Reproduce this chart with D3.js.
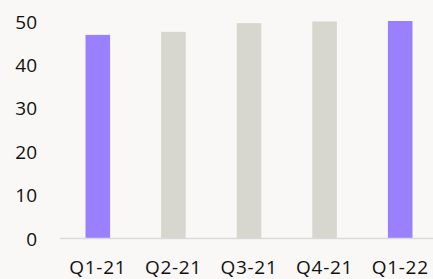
<!DOCTYPE html>
<html>
<head>
<meta charset="utf-8">
<script src="https://cdn.jsdelivr.net/npm/d3@7"></script>
<style>
  html, body { margin: 0; padding: 0; background: #f9f8f6; }
  svg { display: block; }
  .tick text { font-family: "Open Sans", sans-serif; font-size: 19px; fill: #111; }
  .xaxis .tick text { letter-spacing: 0.7px; }
</style>
</head>
<body>
<svg id="chart"></svg>
<script>
const quarters = ["Q1-21", "Q2-21", "Q3-21", "Q4-21", "Q1-22"];
const values = [46.8, 47.5, 49.5, 49.9, 50];
const highlighted = [true, false, false, false, true];
const yTicks = [0, 10, 20, 30, 40, 50];

const width = 433, height = 279;
const margin = {top: 21, right: -5, bottom: 41, left: 60};

const svg = d3.select("#chart")
  .attr("width", width)
  .attr("height", height);

const x = d3.scaleBand()
  .domain(quarters)
  .range([margin.left, width - margin.right])
  .paddingInner(0.675)
  .paddingOuter(0.3375);

const y = d3.scaleLinear()
  .domain([0, 50])
  .range([height - margin.bottom, margin.top]);

// bars
svg.append("g")
  .selectAll("rect")
  .data(quarters)
  .join("rect")
    .attr("x", d => x(d))
    .attr("width", x.bandwidth())
    .attr("y", (d, i) => y(values[i]))
    .attr("height", (d, i) => y(0) - y(values[i]))
    .attr("fill", (d, i) => highlighted[i] ? "#9a80ff" : "#d7d7cf");

// baseline
svg.append("line")
  .attr("x1", margin.left)
  .attr("x2", width)
  .attr("y1", y(0) + 0.5)
  .attr("y2", y(0) + 0.5)
  .attr("stroke", "#d9d9d9")
  .attr("stroke-width", 1.5);

// y axis labels
const yaxis = svg.append("g")
  .attr("transform", "translate(37,1)")
  .call(d3.axisLeft(y).tickValues(yTicks).tickSize(0).tickPadding(0));
yaxis.select(".domain").remove();

// x axis labels
const xaxis = svg.append("g")
  .attr("class", "xaxis")
  .attr("transform", `translate(0,${y(0)})`)
  .call(d3.axisBottom(x).tickSize(0).tickPadding(23));
xaxis.select(".domain").remove();
</script>
</body>
</html>
